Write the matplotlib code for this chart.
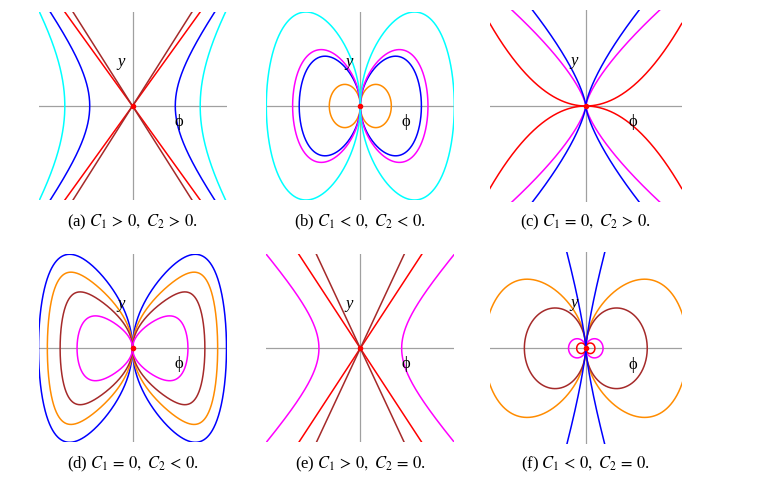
import numpy as np
import matplotlib
matplotlib.use('Agg')
import matplotlib.pyplot as plt

plt.rcParams['font.family'] = ['Liberation Serif', 'DejaVu Serif']
plt.rcParams['mathtext.fontset'] = 'stix'

# caption signs of C1 and C2 for panels (a)..(f)
letters = ['a', 'b', 'c', 'd', 'e', 'f']
c1_signs = ['>', '<', '=', '=', '>', '<']
c2_signs = ['>', '<', '>', '<', '=', '=']

# (a) C1 > 0, C2 > 0: hyperbolas (vertex, phi at |y| = 1) and separatrices
a_hyp_colors = ['cyan', 'blue']
a_hyp_vertex = [0.72, 0.455]
a_hyp_reach = [0.99, 0.875]
a_sep_colors = ['red', 'brown']
a_sep_reach = [0.72, 0.633]

# (b) C1 < 0, C2 < 0: loops (half width, height, shape order)
b_loop_colors = ['darkorange', 'blue', 'magenta', 'cyan']
b_loop_width = [0.33, 0.65, 0.72, 1.0]
b_loop_height = [0.23, 0.53, 0.60, 1.0]
b_loop_order = [1, 2, 2, 2]

# (c) C1 = 0, C2 > 0: power-law curves through the origin
c_pow_colors = ['red', 'magenta', 'blue']
c_pow_reach = [1.0, 0.77, 0.556]
c_pow_top = [0.86, 1.0, 1.0]
c_pow_exp = [2.0, 0.72, 0.72]

# (d) C1 = 0, C2 < 0
d_loop_colors = ['blue', 'darkorange', 'brown', 'magenta']
d_loop_width = [1.0, 0.906, 0.77, 0.59]
d_loop_height = [1.0, 0.81, 0.60, 0.345]
d_loop_order = [4, 6, 6, 4]

# (e) C1 > 0, C2 = 0
e_hyp_colors = ['magenta']
e_hyp_vertex = [0.44]
e_hyp_reach = [1.0]
e_sep_colors = ['red', 'brown']
e_sep_reach = [0.654, 0.467]

# (f) C1 < 0, C2 = 0
f_pow_colors = ['blue']
f_pow_reach = [0.2]
f_pow_top = [1.01]
f_pow_exp = [0.78]
f_loop_colors = ['darkorange', 'brown', 'magenta', 'red']
f_loop_width = [1.06, 0.64, 0.18, 0.095]
f_loop_height = [0.72, 0.42, 0.10, 0.055]
f_loop_order = [2, 1, 1, 1]

W, H = 759, 482
col_centers = [132.5, 360.3, 585.8]
col_half = [94, 94, 96]
row_centers = [106, 348.3]
caption_rows = [222, 464]
LW = 1.1


def hyperbola(ax, color, vertex, reach):
    b2 = 1.0 / ((reach / vertex) ** 2 - 1.0)
    y = np.linspace(-1, 1, 300)
    phi = vertex * np.sqrt(1 + y ** 2 / b2)
    ax.plot(phi, y, color=color, lw=LW)
    ax.plot(-phi, y, color=color, lw=LW)


def separatrix(ax, color, reach):
    phi = np.linspace(-reach, reach, 2)
    ax.plot(phi, phi / reach, color=color, lw=LW)
    ax.plot(phi, -phi / reach, color=color, lw=LW)


def power_curve(ax, color, reach, top, p):
    t = np.linspace(0, 1, 400) ** 2
    phi = reach * t
    y = top * t ** p
    for sx in (1, -1):
        for sy in (1, -1):
            ax.plot(sx * phi, sy * y, color=color, lw=LW)


def loop(ax, color, width, height, n):
    t = np.linspace(0, 1, 500)
    t = 0.5 - 0.5 * np.cos(np.pi * t)
    t = t ** 1.5
    ts = (1.0 / (n + 1)) ** (1.0 / n)
    gmax = ts * n / (n + 1)
    g = np.clip(t * (1 - t ** n), 0, None)
    y = height * np.sqrt(g / gmax)
    x = np.concatenate([width * t, width * t[::-1]])
    yy = np.concatenate([y, -y[::-1]])
    ax.plot(x, yy, color=color, lw=LW)
    ax.plot(-x, yy, color=color, lw=LW)


fig = plt.figure(figsize=(W / 100, H / 100), dpi=100)
axes = []
for i in range(6):
    r, c = divmod(i, 3)
    h = col_half[c]
    ax = fig.add_axes([(col_centers[c] - h) / W, 1 - (row_centers[r] + h) / H,
                       2 * h / W, 2 * h / H])
    ax.set_xlim(-1, 1)
    ax.set_ylim(-1, 1)
    ax.axis('off')
    ax.axhline(0, color='#a0a0a0', lw=0.9, zorder=0)
    ax.axvline(0, color='#a0a0a0', lw=0.9, zorder=0)
    ax.text(-0.12, 0.47, 'y', style='italic', fontsize=12,
            ha='center', va='center')
    ax.text(0.49, -0.17, '\u03d5', fontsize=12, ha='center', va='center')
    fig.text(col_centers[c] / W, 1 - caption_rows[r] / H,
             '(%s) $C_1\\,%s\\,0,\\ C_2\\,%s\\,0$.' % (letters[i], c1_signs[i],
                                                     c2_signs[i]),
             fontsize=12, ha='center', va='center')
    axes.append(ax)

ax_a, ax_b, ax_c, ax_d, ax_e, ax_f = axes

for col, v, rch in zip(a_hyp_colors, a_hyp_vertex, a_hyp_reach):
    hyperbola(ax_a, col, v, rch)
for col, rch in zip(a_sep_colors, a_sep_reach):
    separatrix(ax_a, col, rch)

for col, w, hh, n in zip(b_loop_colors, b_loop_width, b_loop_height,
                         b_loop_order):
    loop(ax_b, col, w, hh, n)

for col, rch, top, p in zip(c_pow_colors, c_pow_reach, c_pow_top, c_pow_exp):
    power_curve(ax_c, col, rch, top, p)

for col, w, hh, n in zip(d_loop_colors, d_loop_width, d_loop_height,
                         d_loop_order):
    loop(ax_d, col, w, hh, n)

for col, v, rch in zip(e_hyp_colors, e_hyp_vertex, e_hyp_reach):
    hyperbola(ax_e, col, v, rch)
for col, rch in zip(e_sep_colors, e_sep_reach):
    separatrix(ax_e, col, rch)

for col, w, hh, n in zip(f_loop_colors, f_loop_width, f_loop_height,
                         f_loop_order):
    loop(ax_f, col, w, hh, n)
for col, rch, top, p in zip(f_pow_colors, f_pow_reach, f_pow_top, f_pow_exp):
    power_curve(ax_f, col, rch, top, p)

for ax in axes:
    ax.plot([0], [0], 'o', color='red', ms=3, zorder=5)

fig.savefig('out.png', dpi=100)
